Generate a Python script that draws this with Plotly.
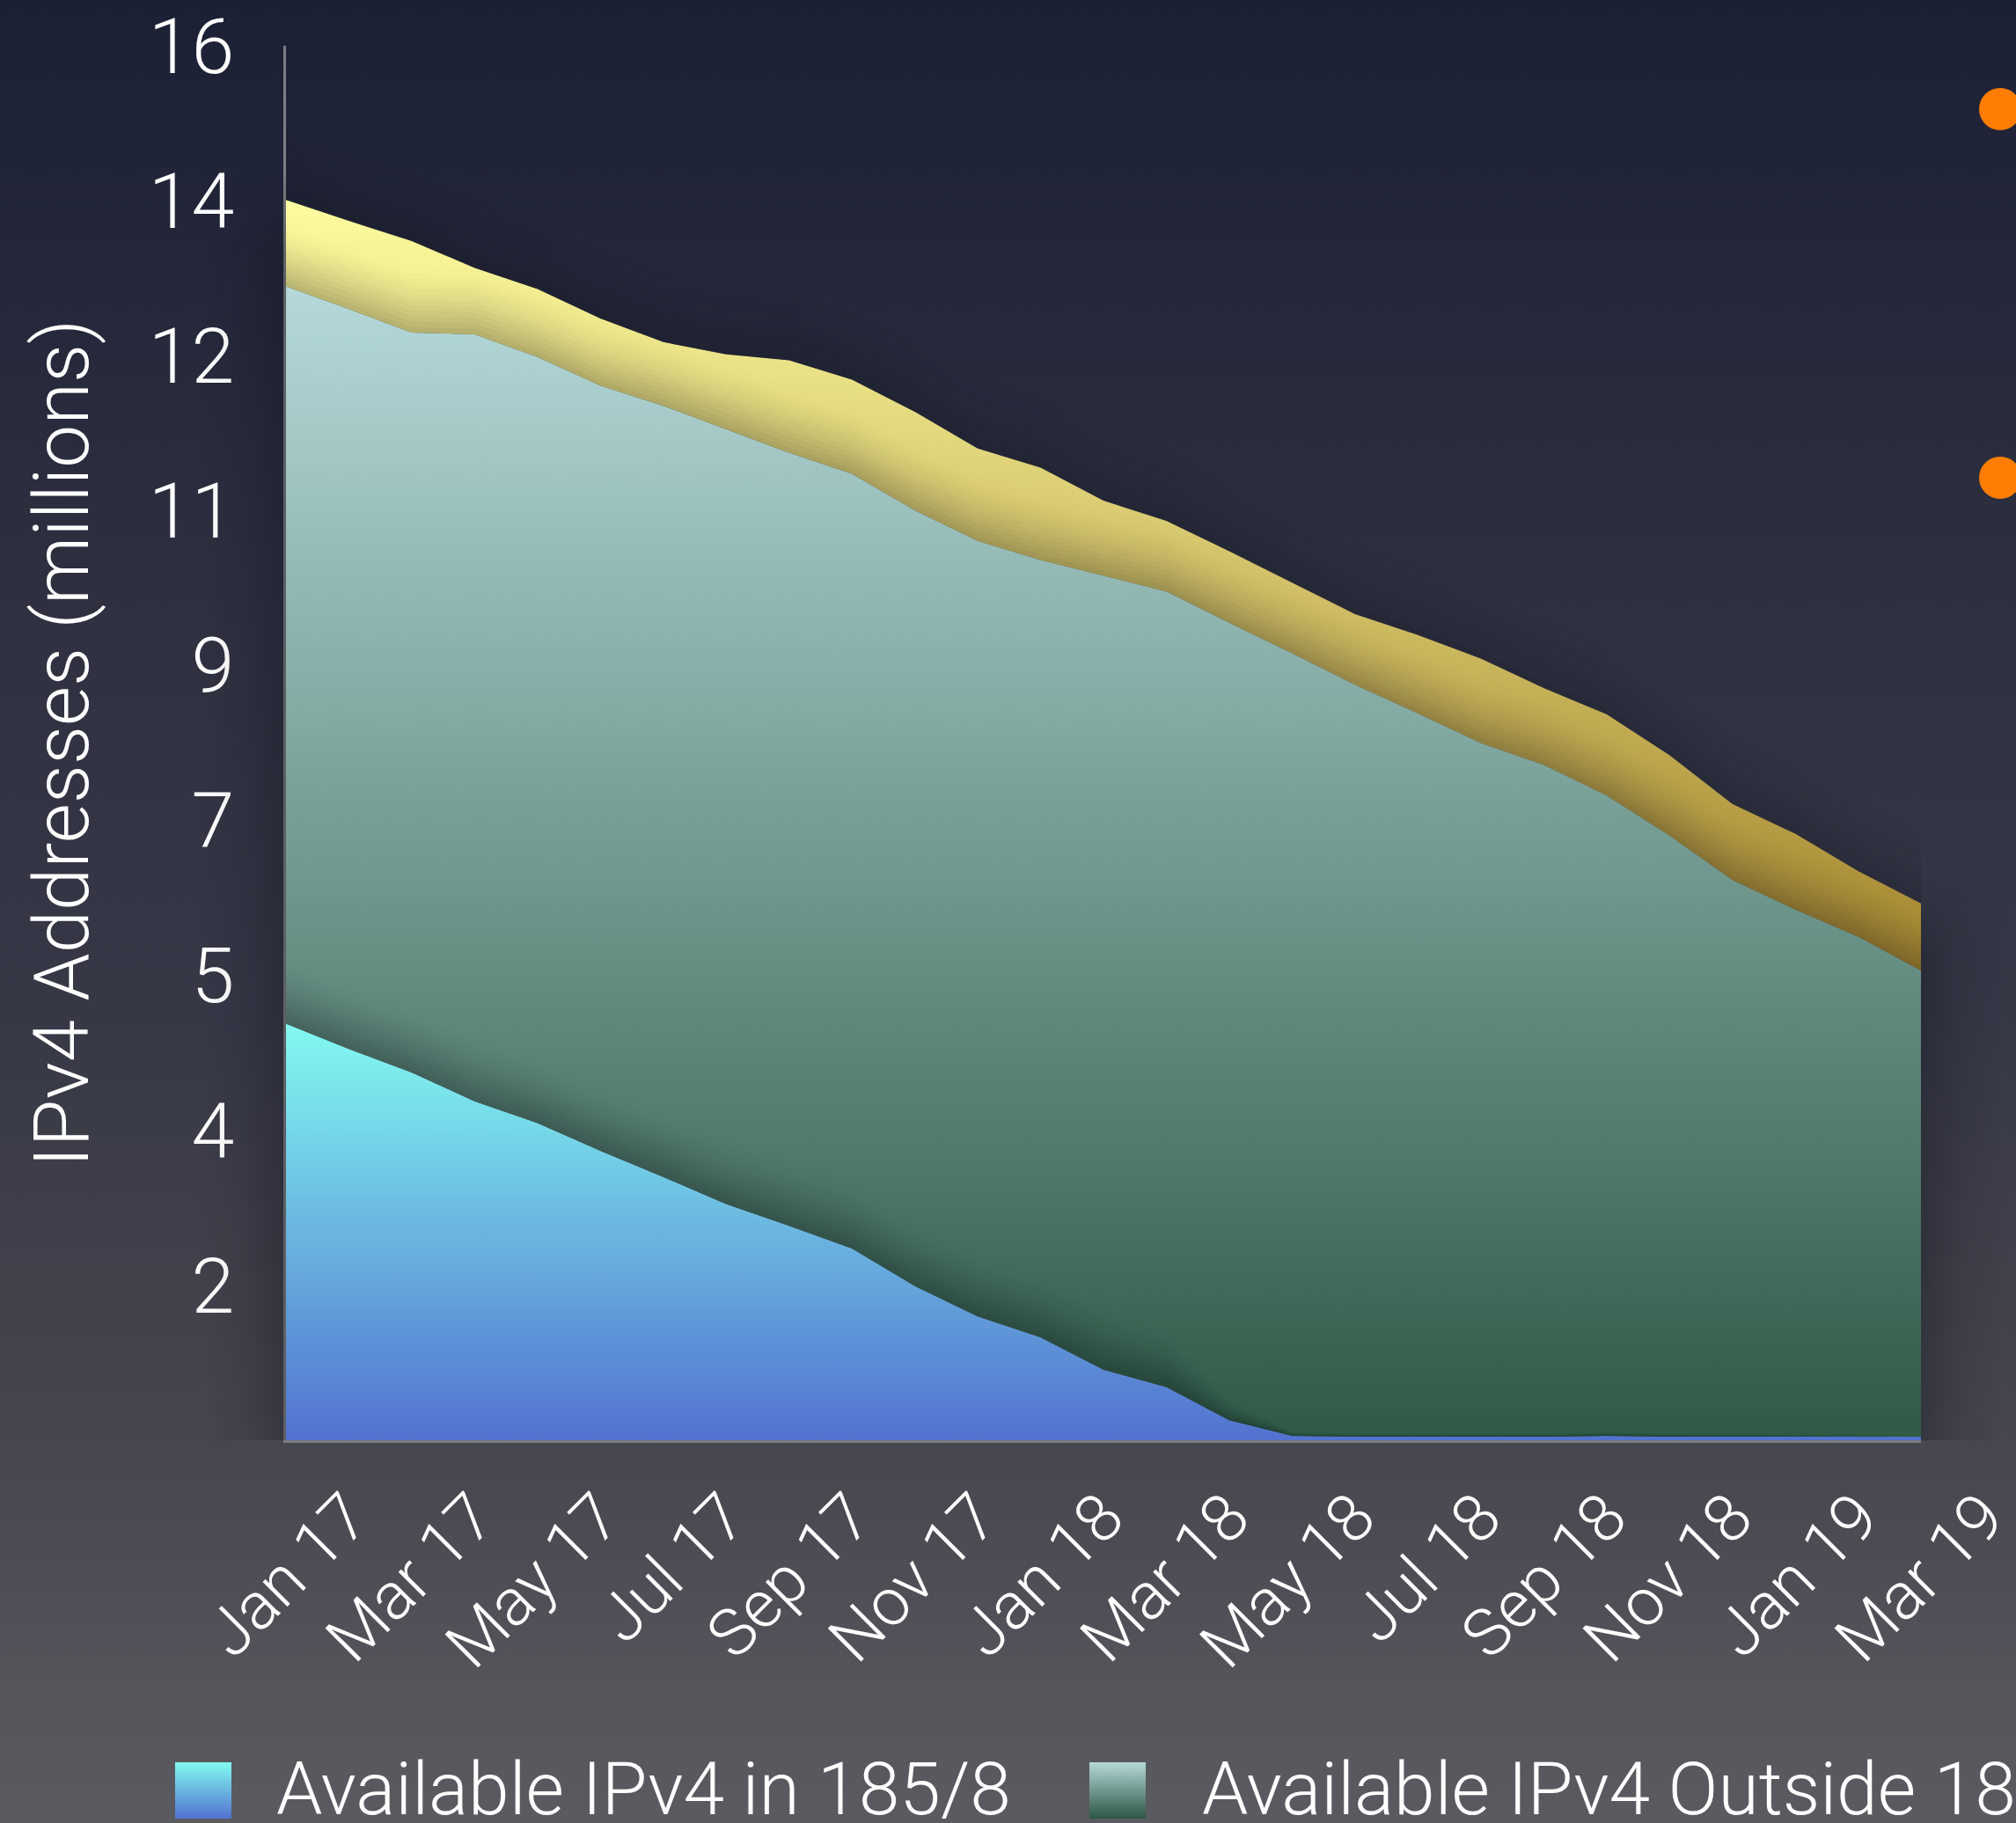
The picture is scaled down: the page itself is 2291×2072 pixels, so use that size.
import base64
import plotly.graph_objects as go

# ---------------- data ----------------
months = ["Jan 17", "Feb 17", "Mar 17", "Apr 17", "May 17", "Jun 17", "Jul 17",
          "Aug 17", "Sep 17", "Oct 17", "Nov 17", "Dec 17", "Jan 18", "Feb 18",
          "Mar 18", "Apr 18", "May 18", "Jun 18", "Jul 18", "Aug 18", "Sep 18",
          "Oct 18", "Nov 18", "Dec 18", "Jan 19", "Feb 19", "Mar 19"]

avail_185 = [4.78, 4.49, 4.22, 3.89, 3.64, 3.32, 3.02, 2.71, 2.46, 2.20, 1.77, 1.42, 1.18,
             0.81, 0.61, 0.23, 0.05, 0.04, 0.04, 0.04, 0.04, 0.05, 0.04, 0.04, 0.04, 0.04, 0.04]

avail_outside = [8.46, 8.49, 8.49, 8.80, 8.79, 8.78, 8.85, 8.89, 8.87, 8.89, 8.90, 8.90, 8.92,
                 9.11, 9.13, 9.15, 8.98, 8.63, 8.30, 7.96, 7.71, 7.35, 6.90, 6.39, 6.05, 5.74, 5.35]

reserved = [0.99, 1.01, 1.05, 0.76, 0.78, 0.77, 0.73, 0.86, 1.06, 1.08, 1.13, 1.06, 1.06,
            0.86, 0.81, 0.82, 0.81, 0.81, 0.90, 0.97, 0.88, 0.93, 0.92, 0.87, 0.87, 0.75, 0.77]

series_names = ["Available IPv4 in 185/8", "Available IPv4 Outside 185/8", "Reserved IPv4"]
x_tick_labels = months[::2]
y_tick_labels = ["2", "4", "5", "7", "9", "11", "12", "14", "16"]
y_title = "IPv4 Addresses (millions)"

# ---------------- geometry / style ----------------
W, H = 2291, 2072
ML, MR, MT, MB = 325, 108, 52, 435
PW, PH = W - ML - MR, H - MT - MB
FONT = "Roboto, 'Open Sans', sans-serif"
Y_MAX = 16
SHADOW = "#080a14"


def px_x(X):
    return (X - ML) / PW


def px_y(Y):
    return (H - MB - Y) / PH


def b64(svg):
    return "data:image/svg+xml;base64," + base64.b64encode(svg.encode()).decode()


def svg_uri(stops, w=100, h=100):
    st = "".join(f'<stop offset="{o}" stop-color="{c}"/>' for o, c in stops)
    return b64(f'<svg xmlns="http://www.w3.org/2000/svg" width="{w}" height="{h}" '
               f'viewBox="0 0 {w} {h}" preserveAspectRatio="none">'
               f'<defs><linearGradient id="g" x1="0" y1="0" x2="0" y2="1">{st}</linearGradient></defs>'
               f'<rect x="0" y="0" width="{w}" height="{h}" fill="url(#g)"/></svg>')


def side_shadow_uri(dark_on_right, fade_top=0.12):
    a = [0, 0.08, 0.26] if dark_on_right else [0.26, 0.08, 0]
    st = "".join(f'<stop offset="{o}" stop-color="{SHADOW}" stop-opacity="{v}"/>'
                 for o, v in zip((0, 0.5, 1), a))
    return b64('<svg xmlns="http://www.w3.org/2000/svg" width="100" height="100" '
               'viewBox="0 0 100 100" preserveAspectRatio="none"><defs>'
               f'<linearGradient id="h" x1="0" y1="0" x2="1" y2="0">{st}</linearGradient>'
               '<linearGradient id="v" x1="0" y1="0" x2="0" y2="1">'
               '<stop offset="0" stop-color="white" stop-opacity="0"/>'
               f'<stop offset="{fade_top}" stop-color="white" stop-opacity="1"/>'
               '<stop offset="1" stop-color="white" stop-opacity="1"/></linearGradient>'
               '<mask id="m"><rect x="0" y="0" width="100" height="100" fill="url(#v)"/></mask>'
               '</defs><rect x="0" y="0" width="100" height="100" fill="url(#h)" mask="url(#m)"/></svg>')


fig = go.Figure()

fig.add_trace(go.Scatter(
    x=months, y=avail_185, name=series_names[0], mode="lines", stackgroup="one",
    line=dict(width=0, color="#6aa6e0"),
    fillgradient=dict(type="vertical", start=0, stop=4.8,
                      colorscale=[[0, "#5272cf"], [1, "#82faf1"]]),
))
fig.add_trace(go.Scatter(
    x=months, y=avail_outside, name=series_names[1], mode="lines", stackgroup="one",
    line=dict(width=0, color="#6f9a8c"),
    fillgradient=dict(type="vertical", start=0, stop=13.25,
                      colorscale=[[0, "#2e5a46"], [1, "#b5d9da"]]),
))
fig.add_trace(go.Scatter(
    x=months, y=reserved, name=series_names[2], mode="lines", stackgroup="one",
    line=dict(width=0, color="#d8c870"),
    fillgradient=dict(type="vertical", start=5.4, stop=14.25,
                      colorscale=[[0, "#a4852f"], [1, "#fdfc9f"]]),
))

# soft shadows cast by each stacked layer onto what lies above it
tops = []
acc = [0.0] * len(months)
for s in (avail_185, avail_outside, reserved):
    acc = [a + v for a, v in zip(acc, s)]
    tops.append(acc)
ceilings = [tops[1], tops[2], [Y_MAX] * len(months)]
casters = [avail_185, tops[1], tops[2]]
shadow_cfg = [(0.75, 0.30), (0.75, 0.26), (0.9, 0.22)]
N_BANDS = 12
for base, ceil, caster, (depth, a0) in zip(tops, ceilings, casters, shadow_cfg):
    f = [min(1.0, c / 0.7) for c in caster]
    d = depth / N_BANDS
    for k in range(N_BANDS):
        lo = [min(b + k * d * fi, c) for b, c, fi in zip(base, ceil, f)]
        hi = [min(b + (k + 1) * d * fi, c) for b, c, fi in zip(base, ceil, f)]
        alpha = a0 * (1 - (k + 0.5) / N_BANDS) ** 1.6
        fig.add_trace(go.Scatter(
            x=months + months[::-1], y=lo + hi[::-1], mode="lines", fill="toself",
            fillcolor=f"rgba(8,10,20,{alpha:.3f})", line=dict(width=0),
            hoverinfo="skip", showlegend=False,
        ))

SH_W = 95  # width of side shadows in px
left_h = (tops[2][0] + 0.3) / Y_MAX
right_h = (tops[2][-1] + 0.3) / Y_MAX
images = [
    dict(source=svg_uri([(0, "#1c2035"), (0.34, "#2f3140"), (0.55, "#363846"),
                         (0.8, "#46474f"), (0.93, "#55565c"), (1, "#5a5b60")], W, H),
         xref="paper", yref="paper", x=px_x(0), y=px_y(0), sizex=W / PW, sizey=H / PH,
         xanchor="left", yanchor="top", sizing="stretch", layer="below"),
    # side shadows of the whole chart body
    dict(source=side_shadow_uri(True, 0.9 / (left_h * Y_MAX)),
         xref="paper", yref="paper", x=0, y=0, sizex=SH_W / PW, sizey=left_h,
         xanchor="right", yanchor="bottom", sizing="stretch", layer="above"),
    dict(source=side_shadow_uri(False, 0.9 / (right_h * Y_MAX)),
         xref="paper", yref="paper", x=1, y=0, sizex=SH_W / PW, sizey=right_h,
         xanchor="left", yanchor="bottom", sizing="stretch", layer="above"),
    # legend swatches
    dict(source=svg_uri([(0, "#82faf1"), (1, "#5272cf")]),
         xref="paper", yref="paper", x=px_x(199), y=px_y(2003), sizex=64 / PW, sizey=64 / PH,
         xanchor="left", yanchor="top", sizing="stretch", layer="above"),
    dict(source=svg_uri([(0, "#b5d9da"), (1, "#2c5744")]),
         xref="paper", yref="paper", x=px_x(1238), y=px_y(2003), sizex=64 / PW, sizey=64 / PH,
         xanchor="left", yanchor="top", sizing="stretch", layer="above"),
]

annotations = [
    dict(text=series_names[0], xref="paper", yref="paper", x=px_x(312), y=px_y(2033),
         xanchor="left", yanchor="middle", showarrow=False,
         font=dict(family=FONT, size=84, color="white", weight=300)),
    dict(text=series_names[1], xref="paper", yref="paper", x=px_x(1364), y=px_y(2033),
         xanchor="left", yanchor="middle", showarrow=False,
         font=dict(family=FONT, size=84, color="white", weight=300)),
]

shapes = []
for cy in (124, 543):
    shapes.append(dict(type="circle", xref="paper", yref="paper",
                       x0=px_x(2249), x1=px_x(2297), y0=px_y(cy + 24), y1=px_y(cy - 24),
                       fillcolor="#ff7d02", line=dict(width=0)))

fig.update_layout(
    width=W, height=H,
    margin=dict(l=ML, r=MR, t=MT, b=MB, pad=0, autoexpand=False),
    paper_bgcolor="#2a2c3a", plot_bgcolor="rgba(0,0,0,0)",
    showlegend=False,
    font=dict(family=FONT, color="white", weight=300),
    images=images, annotations=annotations, shapes=shapes,
    xaxis=dict(type="category", categoryorder="array", categoryarray=months,
               range=[0, len(months) - 1], tickmode="array",
               tickvals=x_tick_labels, ticktext=x_tick_labels,
               tickangle=-45, ticklabelshift=72, ticklabelstandoff=10,
               tickfont=dict(family=FONT, size=75, color="white", weight=300),
               showline=True, linecolor="#7d7d80", linewidth=3, automargin=False,
               showgrid=False, zeroline=False, ticks=""),
    yaxis=dict(range=[0, Y_MAX], tickmode="array",
               tickvals=[Y_MAX * k / 9 for k in range(1, 10)], ticktext=y_tick_labels,
               tickfont=dict(family=FONT, size=88, color="white", weight=300),
               ticklabelstandoff=38, automargin=False,
               title=dict(text=y_title, standoff=40,
                          font=dict(family=FONT, size=87, color="white", weight=300)),
               showline=True, linecolor="#7d7d80", linewidth=3,
               showgrid=False, zeroline=False, ticks=""),
)

fig.write_html("out.html")
